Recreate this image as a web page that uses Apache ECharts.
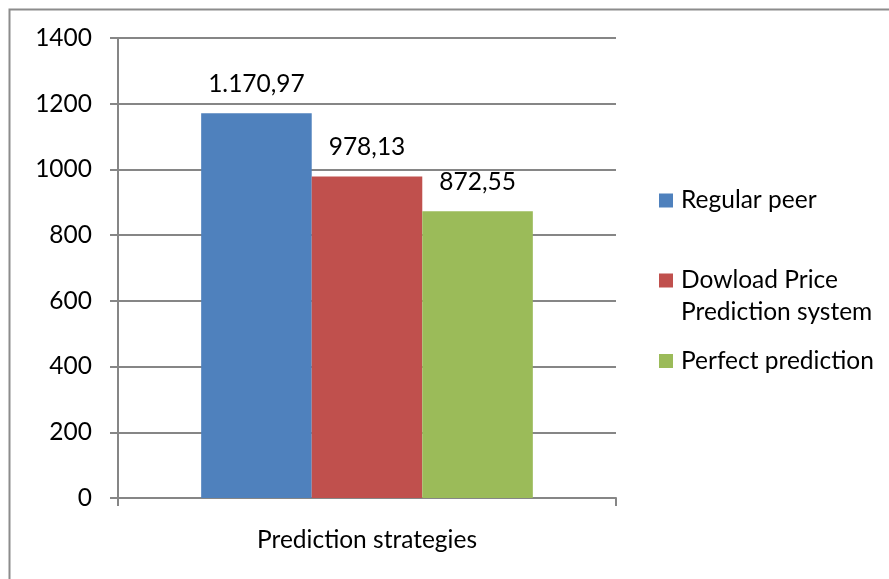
<!DOCTYPE html>
<html>
<head>
<meta charset="utf-8">
<script src="https://cdn.jsdelivr.net/npm/echarts@6/dist/echarts.min.js"></script>
<style>
  html, body { margin: 0; padding: 0; background: #fff; }
  #chart { width: 889px; height: 579px; }
</style>
</head>
<body>
<div id="chart"></div>
<script>
// Download cost per prediction strategy
const categories = ['Prediction strategies'];
const seriesNames = ['Regular peer', 'Dowload Price\nPrediction system', 'Perfect prediction'];
const seriesValues = [1170.97, 978.13, 872.55];
const seriesColors = ['#4F81BD', '#C0504D', '#9BBB59'];
const yTicks = [0, 200, 400, 600, 800, 1000, 1200, 1400];

const FONT = 'Lato';
const FS = 24.5;
const LH = 32;
const ICON = 14;

// European number format: 1.170,97
function euro(v) {
  const parts = v.toFixed(2).split('.');
  const intPart = parts[0].replace(/\B(?=(\d{3})+(?!\d))/g, '.');
  return intPart + ',' + parts[1];
}

const chart = echarts.init(document.getElementById('chart'), null, { renderer: 'canvas' });

const series = seriesNames.map((name, i) => ({
  name: name,
  type: 'bar',
  data: [seriesValues[i]],
  barGap: '0%',
  barCategoryGap: '33.4%',
  itemStyle: { color: seriesColors[i] },
  label: {
    show: true,
    position: 'top',
    distance: 17,
    color: '#000',
    fontFamily: FONT,
    fontSize: FS,
    formatter: p => euro(p.value)
  }
}));

// Legend entries: the swatch sits beside the first text line.
// For multi-line names the icon path carries an empty tail so the
// text block (centred on the icon box) starts at the swatch line.
const legendIconY = [200.5, 280.5, 361];
const legends = seriesNames.map((name, i) => {
  const lines = name.split('\n').length;
  const boxH = ICON + (lines - 1) * LH;
  const icon = lines > 1
    ? 'path://M0,0L' + ICON + ',0L' + ICON + ',' + ICON + 'L0,' + ICON + 'ZM0,' + boxH + 'L0.001,' + boxH
    : 'rect';
  return {
    data: [name],
    left: 659,
    top: legendIconY[i] - LH / 2,
    padding: 0,
    itemWidth: ICON,
    itemHeight: boxH,
    icon: icon,
    selectedMode: false,
    textStyle: {
      color: '#000',
      fontFamily: FONT,
      fontSize: FS,
      lineHeight: LH,
      padding: [0, 0, 0, 3]
    }
  };
});

chart.setOption({
  animation: false,
  backgroundColor: '#fff',
  textStyle: { fontFamily: FONT },
  graphic: [{
    type: 'rect',
    shape: { x: 9.5, y: 9.5, width: 1000, height: 1000 },
    style: { fill: 'none', stroke: '#8c8c8c', lineWidth: 2 },
    silent: true,
    z: -1
  }],
  grid: { left: 118, right: 273, top: 38, bottom: 81 },
  legend: legends,
  xAxis: {
    type: 'category',
    data: categories,
    axisLine: { lineStyle: { color: '#868686', width: 2 } },
    axisTick: { show: true, length: 8, lineStyle: { color: '#868686', width: 2 } },
    axisLabel: { color: '#000', fontFamily: FONT, fontSize: FS, margin: 30 }
  },
  yAxis: {
    type: 'value',
    min: yTicks[0],
    max: yTicks[yTicks.length - 1],
    interval: yTicks[1] - yTicks[0],
    axisLine: { show: true, lineStyle: { color: '#868686', width: 2 } },
    axisTick: { show: true, length: 8, lineStyle: { color: '#868686', width: 2 } },
    splitLine: { show: true, lineStyle: { color: '#868686', width: 2 } },
    axisLabel: {
      color: '#000', fontFamily: FONT, fontSize: FS, margin: 26,
      formatter: v => String(v)
    }
  },
  series: series
});
</script>
</body>
</html>
